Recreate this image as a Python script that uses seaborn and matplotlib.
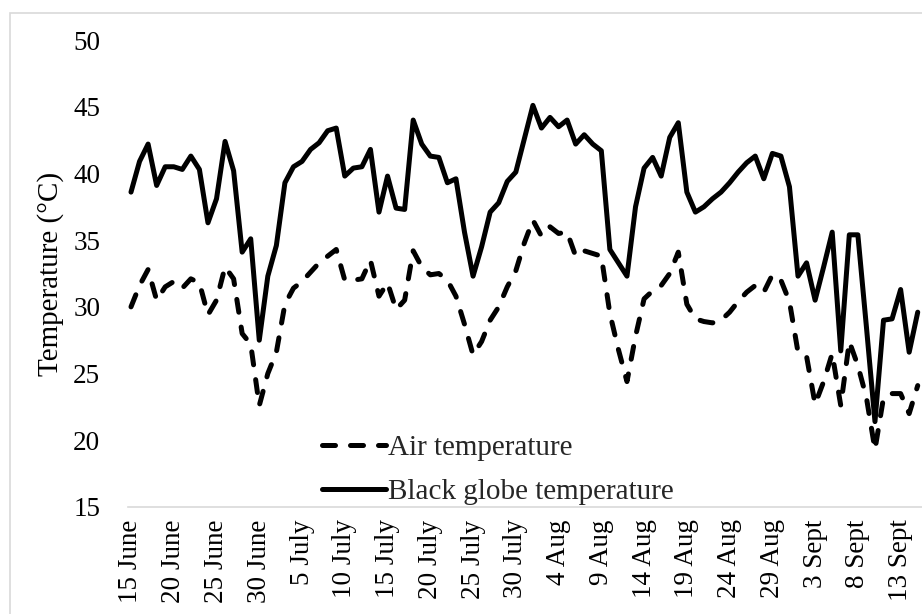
import numpy as np
import pandas as pd
import matplotlib
matplotlib.use("Agg")
import matplotlib.pyplot as plt
from matplotlib.patches import Rectangle
import seaborn as sns

# Dados diários: 15 June até 15 Sept (93 dias)
black_globe = [
    38.6, 40.9, 42.2, 39.1, 40.5, 40.5, 40.3, 41.3, 40.3, 36.3,
    38.1, 42.4, 40.2, 34.1, 35.1, 27.5, 32.3, 34.6, 39.3, 40.5,
    40.9, 41.8, 42.3, 43.2, 43.4, 39.8, 40.4, 40.5, 41.8, 37.1,
    39.8, 37.4, 37.3, 44.0, 42.2, 41.3, 41.2, 39.3, 39.6, 35.6,
    32.3, 34.5, 37.1, 37.8, 39.4, 40.1, 42.6, 45.1, 43.4, 44.2,
    43.5, 44.0, 42.2, 42.9, 42.2, 41.7, 34.3, 33.3, 32.3, 37.5,
    40.4, 41.2, 39.8, 42.7, 43.8, 38.6, 37.1, 37.5, 38.1, 38.6,
    39.3, 40.1, 40.8, 41.3, 39.6, 41.5, 41.3, 39.0, 32.3, 33.3,
    30.5, 33.0, 35.6, 26.7, 35.4, 35.4, 28.5, 21.4, 29.0, 29.1,
    31.3, 26.6, 29.6,
]
air_temp = [
    30.0, 31.6, 32.8, 30.5, 31.5, 31.9, 31.4, 32.1, 31.8, 29.4,
    30.5, 33.0, 32.1, 28.0, 27.2, 22.6, 25.0, 26.6, 30.2, 31.4,
    31.9, 32.6, 33.3, 33.8, 34.3, 32.0, 32.0, 32.1, 33.5, 30.8,
    31.8, 29.8, 30.5, 34.2, 33.0, 32.4, 32.5, 32.0, 30.8, 28.7,
    26.4, 27.4, 29.0, 30.0, 31.5, 32.7, 34.8, 36.5, 35.3, 36.0,
    35.5, 35.6, 33.8, 34.2, 34.0, 33.8, 29.5, 26.8, 24.4, 27.8,
    30.6, 31.2, 31.6, 32.5, 34.1, 30.2, 29.1, 28.9, 28.8, 29.0,
    29.6, 30.4, 31.1, 31.6, 31.1, 32.4, 32.0, 30.4, 26.6, 26.3,
    22.7, 24.4, 26.5, 22.6, 27.4, 25.6, 23.2, 19.3, 23.2, 23.5,
    23.5, 22.0, 24.1,
]
tick_labels = ["15 June", "20 June", "25 June", "30 June", "5 July", "10 July",
               "15 July", "20 July", "25 July", "30 July", "4 Aug", "9 Aug",
               "14 Aug", "19 Aug", "24 Aug", "29 Aug", "3 Sept", "8 Sept",
               "13 Sept"]
y_ticks = [15, 20, 25, 30, 35, 40, 45, 50]

df = pd.DataFrame({"dia": np.arange(len(air_temp)),
                   "Air temperature": air_temp,
                   "Black globe temperature": black_globe})

sns.set_theme(style="white")
plt.rcParams["font.family"] = ["Liberation Serif", "DejaVu Serif"]

fig = plt.figure(figsize=(9.22, 6.14), dpi=100)
ax = fig.add_axes([128 / 922, 107 / 614, 794 / 922, 467 / 614])

sns.lineplot(data=df, x="dia", y="Air temperature", ax=ax, color="black",
             lw=3.6, linestyle=(0, (2.6, 3.0)), dash_capstyle="round",
             solid_joinstyle="round", label="Air temperature")
sns.lineplot(data=df, x="dia", y="Black globe temperature", ax=ax, color="black",
             lw=3.6, solid_joinstyle="round", solid_capstyle="round",
             label="Black globe temperature")

ax.set_xlim(-0.35, 92.5)
ax.set_ylim(15, 50)
ax.set_yticks(y_ticks)
ax.set_yticklabels([str(v) for v in y_ticks], fontsize=19.5, color="black")
ax.set_xticks(np.arange(0, len(air_temp), 5)[:len(tick_labels)])
ax.set_xticklabels(tick_labels, rotation=90, fontsize=19.5, color="black",
                   va="top", ha="center")
ax.tick_params(axis="y", length=0, pad=20)
ax.tick_params(axis="x", length=0, pad=9)

ax.set_xlabel("")
ax.set_ylabel("Temperature (°C)", fontsize=21, color="black")
ax.yaxis.set_label_coords(-0.08, 0.5)

for s in ["top", "right", "left"]:
    ax.spines[s].set_visible(False)
ax.spines["bottom"].set_color("#d9d9d9")
ax.spines["bottom"].set_linewidth(1.2)
ax.grid(False)

leg = ax.legend(loc="center left", bbox_to_anchor=(322 / 922, 144 / 614),
                bbox_transform=fig.transFigure, frameon=False, fontsize=21,
                handlelength=2.2, handletextpad=0.05, labelspacing=0.62,
                borderpad=0, borderaxespad=0)

# moldura cinza do gráfico (cortada à direita e embaixo)
fig.patches.append(Rectangle((10 / 922, -0.1), 1.2, (601 / 614) + 0.1,
                             transform=fig.transFigure, fill=False,
                             edgecolor="#d9d9d9", lw=1.2))

fig.savefig("out.png", dpi=100)
